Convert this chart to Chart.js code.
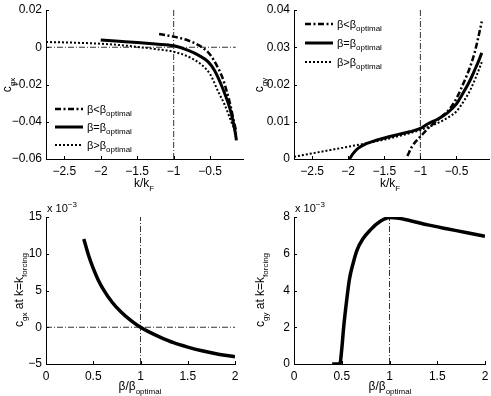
<!DOCTYPE html>
<html>
<head>
<meta charset="utf-8">
<script src="https://cdn.jsdelivr.net/npm/chart.js@4.4.0/dist/chart.umd.min.js"></script>
<style>
html, body { margin: 0; padding: 0; background: #fff; }
#wrap { position: relative; width: 491px; height: 396px; overflow: hidden; }
canvas { position: absolute; }
</style>
</head>
<body>
<div id="wrap">
  <canvas id="c1" width="250" height="196" style="left:0;top:0;width:250px;height:196px"></canvas>
  <canvas id="c2" width="241" height="196" style="left:250px;top:0;width:241px;height:196px"></canvas>
  <canvas id="c3" width="250" height="200" style="left:0;top:196px;width:250px;height:200px"></canvas>
  <canvas id="c4" width="241" height="200" style="left:250px;top:196px;width:241px;height:200px"></canvas>
</div>
<script>
// ---- data ----
// top left: c_gx against k/kF
const gxLessK = [-1.2, -1.1, -1.0, -0.9, -0.8, -0.7, -0.6, -0.5, -0.4, -0.33, -0.27, -0.22, -0.18, -0.14];
const gxLess  = [0.0071, 0.0064, 0.0057, 0.0048, 0.0036, 0.0020, -0.0003, -0.0040, -0.0105, -0.0165, -0.0240, -0.0315, -0.0390, -0.0455];
const gxOptK  = [-2, -1.75, -1.5, -1.25, -1.0, -0.8, -0.65, -0.53, -0.44, -0.35, -0.28, -0.23, -0.19, -0.16, -0.14];
const gxOpt   = [0.0039, 0.0032, 0.0025, 0.0017, 0.0008, -0.0017, -0.0045, -0.0077, -0.0125, -0.0200, -0.0270, -0.0328, -0.0390, -0.0450, -0.0500];
const gxMoreK = [-2.75, -2.5, -2.25, -2, -1.75, -1.5, -1.25, -1.0, -0.76, -0.6, -0.5, -0.39, -0.3, -0.23, -0.18, -0.14];
const gxMore  = [0.0028, 0.0026, 0.0023, 0.0019, 0.0012, 0.0002, -0.0010, -0.0024, -0.0058, -0.0100, -0.0145, -0.0238, -0.0310, -0.0380, -0.0430, -0.0470];

// top right: c_gy against k/kF
const gyLessK = [-1.18, -1.12, -1.06, -1.0, -0.9, -0.8, -0.7, -0.6, -0.5, -0.4, -0.31, -0.25, -0.2, -0.15];
const gyLess  = [0.0008, 0.0032, 0.0048, 0.0060, 0.0081, 0.0098, 0.0115, 0.0133, 0.0163, 0.0205, 0.0248, 0.0285, 0.0325, 0.0369];
const gyOptK  = [-1.98, -1.93, -1.86, -1.75, -1.6, -1.45, -1.3, -1.15, -1.0, -0.9, -0.75, -0.63, -0.5, -0.4, -0.31, -0.25, -0.2, -0.15];
const gyOpt   = [0, 0.0015, 0.0029, 0.0041, 0.0051, 0.0059, 0.0066, 0.0073, 0.0082, 0.0094, 0.0108, 0.0123, 0.0148, 0.0180, 0.0212, 0.0238, 0.0260, 0.0285];
const gyMoreK = [-2.75, -2.5, -2.25, -2.0, -1.75, -1.5, -1.25, -1.0, -0.8, -0.63, -0.5, -0.4, -0.31, -0.22, -0.15];
const gyMore  = [0.0006, 0.0015, 0.0024, 0.0033, 0.0042, 0.0052, 0.0064, 0.0078, 0.0093, 0.0110, 0.0128, 0.0155, 0.0185, 0.0225, 0.0260];

// bottom: values at k = k_forcing (x 10^-3) against beta/beta_optimal
const betaGx  = [0.4, 0.45, 0.5, 0.55, 0.6, 0.7, 0.8, 0.9, 1.0, 1.1, 1.2, 1.35, 1.5, 1.65, 1.8, 2.0];
const gxForce = [12.0, 9.8, 8.0, 6.5, 5.3, 3.4, 2.0, 0.9, 0, -0.7, -1.3, -2.1, -2.7, -3.2, -3.6, -4.0];
const betaGy  = [0.4, 0.48, 0.5, 0.52, 0.55, 0.58, 0.62, 0.66, 0.72, 0.8, 0.9, 1.0, 1.1, 1.2, 1.4, 1.6, 1.8, 2.0];
const gyForce = [0, 0, 0.8, 2.0, 3.4, 4.6, 5.5, 6.2, 6.8, 7.3, 7.75, 7.97, 7.93, 7.82, 7.57, 7.36, 7.16, 6.95];

// ticks
const kTicks = [-2.5, -2, -1.5, -1, -0.5];
const gxTicks = [-0.06, -0.04, -0.02, 0, 0.02];
const gyTicks = [0, 0.01, 0.02, 0.03, 0.04];
const betaTicks = [0, 0.5, 1, 1.5, 2];
const gxForceTicks = [-5, 0, 5, 10, 15];
const gyForceTicks = [0, 2, 4, 6, 8];

const legendLabels = ['\u03b2<\u03b2', '\u03b2=\u03b2', '\u03b2>\u03b2'];

const FONT = '"Liberation Sans", Arial, sans-serif';
const DASHDOT = [6, 2.5, 2, 2.5];
const DOTS = [2, 2];
const REF = [6, 2, 1, 2];

function pts(xs, ys) { return xs.map((x, i) => ({ x: x, y: ys[i] })); }
function fmt(v) { return (v < 0 ? '\u2212' : '') + String(Math.abs(v)); }

// text with sub/superscripts, y is the baseline
function rich(ctx, parts, x, y, size, center) {
    const small = Math.round(size * 0.7);
    let w = 0;
    parts.forEach(p => {
        ctx.font = (p[1] ? small : size) + 'px ' + FONT;
        w += ctx.measureText(p[0]).width;
    });
    let cx = center ? x - w / 2 : x;
    ctx.textAlign = 'left';
    ctx.textBaseline = 'alphabetic';
    parts.forEach(p => {
        ctx.font = (p[1] ? small : size) + 'px ' + FONT;
        const dy = p[1] === 'sub' ? size * 0.3 : p[1] === 'sup' ? -size * 0.45 : 0;
        ctx.fillText(p[0], cx, y + dy);
        cx += ctx.measureText(p[0]).width;
    });
}

// inward ticks, titles and the legend
function decor(d) {
    return {
        id: 'decor',
        afterDraw(chart) {
            const ctx = chart.ctx, a = chart.chartArea;
            const xs = chart.scales.x, ys = chart.scales.y;
            ctx.save();
            ctx.strokeStyle = '#000';
            ctx.fillStyle = '#000';
            ctx.lineWidth = 1;
            xs.ticks.forEach(t => {
                const px = Math.round(xs.getPixelForValue(t.value)) + 0.5;
                ctx.beginPath(); ctx.moveTo(px, a.bottom); ctx.lineTo(px, a.bottom - 3); ctx.stroke();
            });
            ys.ticks.forEach(t => {
                const py = Math.round(ys.getPixelForValue(t.value)) + 0.5;
                ctx.beginPath(); ctx.moveTo(a.left, py); ctx.lineTo(a.left + 3, py); ctx.stroke();
            });
            rich(ctx, d.xTitle, d.xTitlePos[0], d.xTitlePos[1], 12, true);
            ctx.save();
            ctx.translate(d.yTitlePos[0], d.yTitlePos[1]);
            ctx.rotate(-Math.PI / 2);
            rich(ctx, d.yTitle, 0, 0, 12, true);
            ctx.restore();
            if (d.power) rich(ctx, [['x 10', ''], ['\u22123', 'sup']], d.power[0], d.power[1], 11, false);
            if (d.legend) {
                const L = d.legend;
                chart.data.datasets.slice(0, 3).forEach((ds, i) => {
                    const y = L.y + i * L.dy;
                    ctx.save();
                    ctx.lineWidth = ds.borderWidth;
                    ctx.setLineDash(ds.borderDash || []);
                    ctx.beginPath(); ctx.moveTo(L.x, y); ctx.lineTo(L.x + 28, y); ctx.stroke();
                    ctx.restore();
                    rich(ctx, [[legendLabels[i], ''], ['optimal', 'sub']], L.x + 32, y + 4, 11, false);
                });
            }
            ctx.restore();
        }
    };
}

function axes(xMin, xMax, xTicks, yMin, yMax, yTicks, yWidth, xHeight, xPad) {
    const tickFont = { family: FONT, size: 12 };
    return {
        x: {
            type: 'linear', min: xMin, max: xMax,
            grid: { display: false, drawTicks: false },
            border: { display: true, color: '#000', width: 1 },
            ticks: { color: '#000', font: tickFont, padding: xPad, callback: fmt, maxRotation: 0, autoSkip: false },
            afterBuildTicks: s => { s.ticks = xTicks.map(v => ({ value: v })); },
            afterFit: s => { s.height = xHeight; s.paddingLeft = 0; s.paddingRight = 0; }
        },
        y: {
            type: 'linear', min: yMin, max: yMax,
            grid: { display: false, drawTicks: false },
            border: { display: true, color: '#000', width: 1 },
            ticks: { color: '#000', font: tickFont, padding: 4, callback: fmt, autoSkip: false },
            afterBuildTicks: s => { s.ticks = yTicks.map(v => ({ value: v })); },
            afterFit: s => { s.width = yWidth; s.paddingTop = 0; s.paddingBottom = 0; }
        }
    };
}

function curve(xs, ys, dash, width) {
    return {
        data: pts(xs, ys), borderColor: '#000', borderWidth: width, borderDash: dash,
        pointRadius: 0, cubicInterpolationMode: 'monotone', fill: false, borderCapStyle: 'butt'
    };
}
function refLine(xs, ys) {
    return { data: pts(xs, ys), borderColor: '#333', borderWidth: 1, borderDash: REF, pointRadius: 0, tension: 0 };
}

const baseOpts = (scales, pad) => ({
    responsive: false, animation: false, maintainAspectRatio: false,
    layout: { padding: pad },
    plugins: { legend: { display: false }, tooltip: { enabled: false } },
    scales: scales
});

// top left
new Chart(document.getElementById('c1'), {
    type: 'line',
    data: { datasets: [
        curve(gxLessK, gxLess, DASHDOT, 2.5),
        curve(gxOptK, gxOpt, [], 3),
        curve(gxMoreK, gxMore, DOTS, 2),
        refLine([-1, -1], [-0.06, 0.02]),
        refLine([-2.75, -0.15], [0, 0])
    ] },
    options: baseOpts(axes(-2.75, -0.05, kTicks, -0.06, 0.02, gxTicks, 46, 37, 5), { top: 10, right: 7, left: 0, bottom: 0 }),
    plugins: [decor({
        xTitle: [['k/k', ''], ['F', 'sub']], xTitlePos: [144, 187],
        yTitle: [['c', ''], ['gx', 'sub']], yTitlePos: [11, 85],
        legend: { x: 55, y: 109, dy: 18 }
    })]
});

// top right
new Chart(document.getElementById('c2'), {
    type: 'line',
    data: { datasets: [
        curve(gyLessK, gyLess, DASHDOT, 2.5),
        curve(gyOptK, gyOpt, [], 3),
        curve(gyMoreK, gyMore, DOTS, 2),
        refLine([-1, -1], [0, 0.04])
    ] },
    options: baseOpts(axes(-2.75, -0.05, kTicks, 0, 0.04, gyTicks, 44, 37, 5), { top: 10, right: 2, left: 0, bottom: 0 }),
    plugins: [decor({
        xTitle: [['k/k', ''], ['F', 'sub']], xTitlePos: [140, 187],
        yTitle: [['c', ''], ['gy', 'sub']], yTitlePos: [13, 85],
        legend: { x: 55, y: 24, dy: 19 }
    })]
});

// bottom left
new Chart(document.getElementById('c3'), {
    type: 'line',
    data: { datasets: [
        curve(betaGx, gxForce, [], 3.5),
        refLine([1, 1], [-5, 15]),
        refLine([0, 2], [0, 0])
    ] },
    options: baseOpts(axes(0, 2, betaTicks, -5, 15, gxForceTicks, 46, 32, 5), { top: 21, right: 15, left: 0, bottom: 0 }),
    plugins: [decor({
        xTitle: [['\u03b2/\u03b2', ''], ['optimal', 'sub']], xTitlePos: [140, 194],
        yTitle: [['c', ''], ['gx', 'sub'], [' at k=k', ''], ['forcing', 'sub']], yTitlePos: [23, 94],
        power: [47, 16]
    })]
});

// bottom right
new Chart(document.getElementById('c4'), {
    type: 'line',
    data: { datasets: [
        curve(betaGy, gyForce, [], 3.5),
        refLine([1, 1], [0, 8])
    ] },
    options: baseOpts(axes(0, 2, betaTicks, 0, 8, gyForceTicks, 44, 32, 5), { top: 21, right: 6, left: 0, bottom: 0 }),
    plugins: [decor({
        xTitle: [['\u03b2/\u03b2', ''], ['optimal', 'sub']], xTitlePos: [140, 194],
        yTitle: [['c', ''], ['gy', 'sub'], [' at k=k', ''], ['forcing', 'sub']], yTitlePos: [14, 94],
        power: [45, 16]
    })]
});
</script>
</body>
</html>
